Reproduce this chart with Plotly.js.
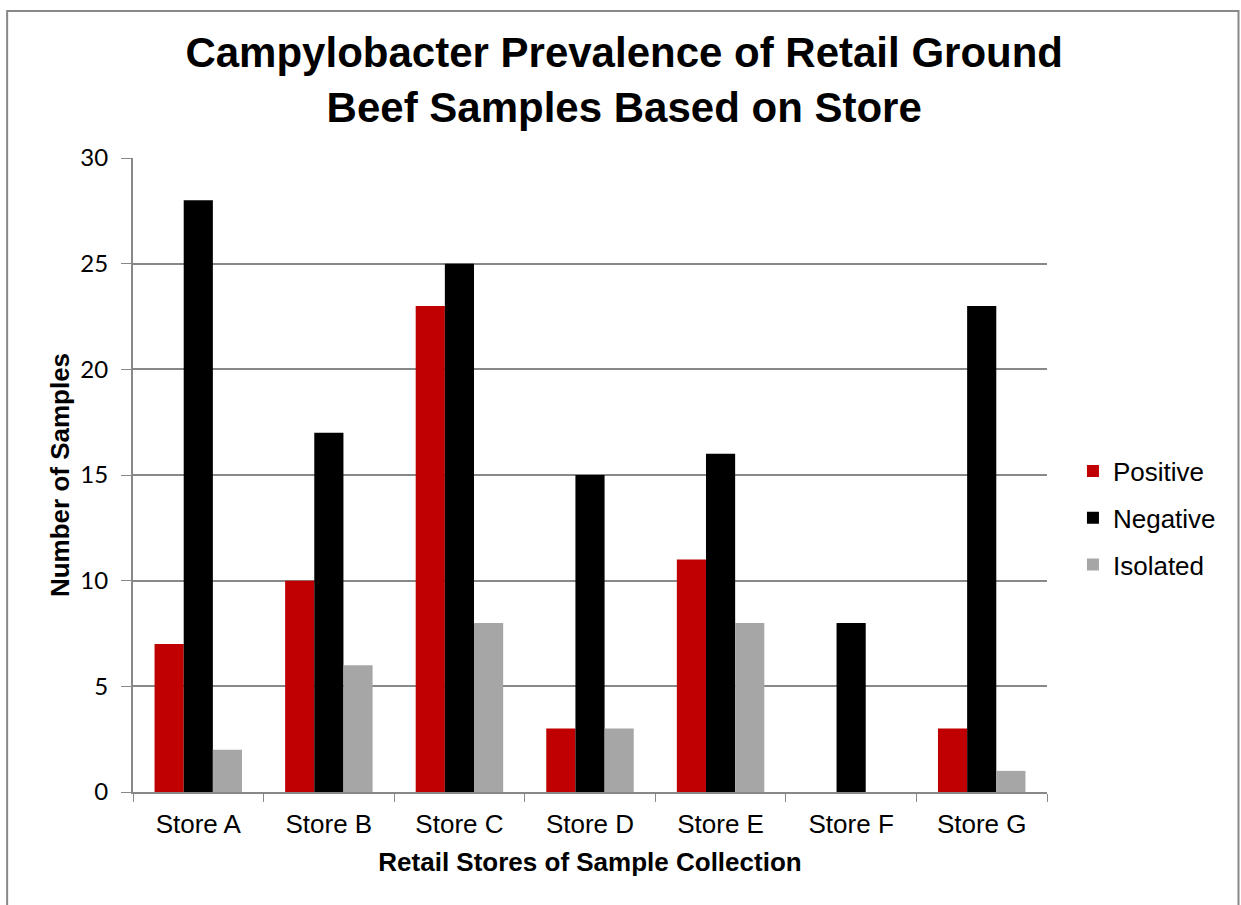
<!DOCTYPE html>
<html><head><meta charset="utf-8">
<script src="https://cdn.plot.ly/plotly-3.0.1.min.js"></script>
<style>body{margin:0;padding:0;background:#fff}#chart{width:1241px;height:905px}</style>
</head><body><div id="chart"></div>
<script>
const stores = ["Store A","Store B","Store C","Store D","Store E","Store F","Store G"];
const positive = [7,10,23,3,11,0,3];
const negative = [28,17,25,15,16,8,23];
const isolated = [2,6,8,3,8,0,1];
const seriesNames = ["Positive","Negative","Isolated"];
const colors = ["#c00000","#000000","#a6a6a6"];

const traces = [positive, negative, isolated].map((v,i)=>({
  type:"bar", x:stores, y:v, name:seriesNames[i], legendgroup:"g"+i,
  marker:{color:colors[i], line:{width:0}}
}));

const layout = {
  width:1241, height:905,
  margin:{l:133, r:194, t:158, b:113},
  paper_bgcolor:"#fff", plot_bgcolor:"#fff",
  barmode:"group", bargap:0.33, bargroupgap:0,
  font:{family:"Liberation Sans, Arial, sans-serif", color:"#000"},
  title:{text:"<b>Campylobacter Prevalence of Retail Ground<br>Beef Samples Based on Store</b>",
    font:{size:42, family:"Liberation Sans, Arial, sans-serif", color:"#000"},
    x:0.503, xanchor:"center", y:0.9255, yanchor:"middle"},
  xaxis:{type:"category", tickson:"boundaries", ticks:"outside", ticklen:8, tickcolor:"#888",
    showline:true, linecolor:"#888", linewidth:2, showgrid:false, ticklabelstandoff:8,
    tickfont:{size:26, family:"Liberation Sans, Arial, sans-serif"},
    title:{text:"<b>Retail Stores of Sample Collection</b>", font:{size:26}, standoff:15}},
  yaxis:{range:[0,30], dtick:5, ticks:"outside", ticklen:10, tickcolor:"#888",
    showline:true, linecolor:"#888", linewidth:2, gridcolor:"#888", gridwidth:1.5, zeroline:false,
    ticklabelstandoff:8,
    tickfont:{size:24, family:"Lato, Noto Sans, sans-serif"},
    title:{text:"<b>Number of Samples</b>", font:{size:26}, standoff:3}},
  legend:{x:1.0284, xanchor:"left", y:0.432, yanchor:"middle", font:{size:26}, itemwidth:30, tracegroupgap:10,
    bgcolor:"rgba(0,0,0,0)"},
  shapes:[{type:"rect", xref:"paper", yref:"paper", x0:-0.1377, x1:1.2095, y0:-0.23, y1:1.2317,
    line:{color:"#888", width:2}, fillcolor:"rgba(0,0,0,0)", layer:"below"}]
};
Plotly.newPlot("chart", traces, layout, {displayModeBar:false});
</script></body></html>
